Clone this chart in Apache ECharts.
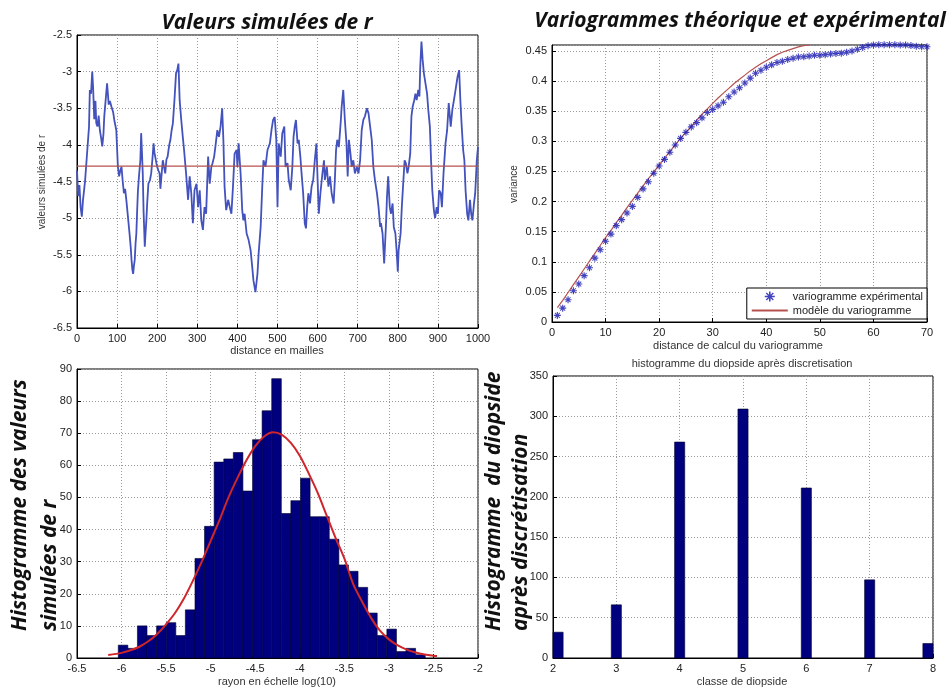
<!DOCTYPE html>
<html>
<head>
<meta charset="utf-8">
<script src="https://cdn.jsdelivr.net/npm/echarts@6/dist/echarts.min.js"></script>
<style>
html,body{margin:0;padding:0;background:#fff;}
#chart{width:948px;height:691px;}
</style>
</head>
<body>
<div id="chart"></div>
<script>
// ---- Data ----
// Panel 1: simulated values of r along the profile [distance, value]
const simSeries = [[0,-4.35],[3,-4.7],[6,-4.55],[9,-4.85],[12,-4.98],[15,-4.75],[18,-4.6],[20,-4.5],[24,-4.2],[28,-3.9],[30,-3.75],[32,-3.25],[35,-3.3],[38,-3.0],[40,-3.2],[43,-3.65],[46,-3.4],[48,-3.7],[51,-3.75],[54,-3.6],[57,-3.8],[60,-3.9],[63,-4.02],[66,-3.85],[68,-3.61],[71,-3.6],[75,-3.16],[77,-3.3],[79,-3.45],[82,-3.4],[86,-3.48],[90,-3.55],[93,-3.66],[98,-3.8],[102,-4.3],[105,-4.43],[108,-4.35],[111,-4.3],[114,-4.5],[117,-4.66],[120,-4.6],[123,-4.75],[127,-4.98],[131,-5.21],[134,-5.4],[136,-5.57],[138,-5.7],[140,-5.76],[142,-5.65],[144,-5.57],[146,-5.35],[148,-5.21],[150,-4.9],[152,-4.62],[155,-4.4],[158,-4.21],[160,-3.84],[162,-4.1],[164,-4.39],[166,-4.9],[169,-5.39],[171,-5.2],[173,-5.03],[175,-4.8],[178,-4.53],[182,-4.48],[185,-4.39],[188,-4.2],[191,-3.98],[193,-4.1],[195,-4.16],[198,-4.25],[200,-4.3],[203,-4.35],[206,-4.39],[208,-4.6],[211,-4.4],[214,-4.21],[217,-4.3],[220,-4.39],[223,-4.2],[226,-4.16],[230,-4.0],[233,-3.93],[236,-3.8],[239,-3.71],[243,-3.39],[247,-3.02],[250,-2.98],[253,-2.89],[256,-3.39],[260,-3.66],[264,-3.9],[267,-4.07],[272,-4.39],[277,-4.75],[281,-4.43],[285,-4.66],[289,-5.07],[293,-4.62],[298,-4.53],[302,-4.85],[306,-4.62],[310,-5.03],[314,-5.16],[318,-4.85],[322,-4.94],[327,-4.16],[331,-4.53],[335,-4.3],[338,-4.25],[342,-4.16],[345,-4.03],[350,-3.8],[354,-3.89],[358,-3.75],[362,-3.5],[365,-3.93],[368,-4.57],[372,-4.89],[377,-4.75],[381,-4.85],[385,-4.94],[389,-4.57],[393,-4.12],[398,-4.07],[400,-4.3],[403,-3.98],[408,-4.39],[412,-4.89],[415,-5.03],[418,-4.94],[423,-5.21],[428,-5.3],[433,-5.44],[437,-5.67],[440,-5.85],[445,-6.01],[450,-5.76],[453,-5.48],[458,-5.12],[462,-4.57],[465,-4.21],[470,-4.3],[475,-4.07],[481,-3.98],[485,-3.8],[489,-3.66],[493,-3.62],[497,-3.93],[500,-4.85],[503,-3.98],[508,-4.16],[512,-3.84],[517,-3.75],[520,-4.3],[525,-4.25],[528,-4.48],[533,-4.62],[537,-4.3],[540,-3.89],[543,-3.75],[546,-3.66],[550,-3.98],[553,-3.93],[557,-4.16],[560,-4.39],[564,-4.66],[568,-5.07],[571,-5.14],[574,-4.85],[577,-4.66],[581,-4.8],[585,-4.57],[589,-4.48],[593,-4.21],[597,-3.98],[600,-4.48],[603,-4.94],[607,-4.66],[612,-4.39],[616,-4.21],[618,-4.48],[623,-4.3],[627,-4.57],[631,-4.43],[635,-4.66],[640,-4.8],[643,-4.48],[646,-4.07],[649,-3.93],[653,-4.03],[658,-3.66],[660,-3.48],[664,-3.25],[668,-3.66],[672,-3.98],[675,-4.43],[678,-3.93],[682,-4.12],[685,-4.3],[689,-4.21],[693,-4.39],[698,-4.3],[702,-4.39],[706,-4.21],[710,-3.8],[714,-3.66],[718,-3.61],[723,-3.5],[727,-3.57],[731,-3.75],[735,-3.93],[739,-4.3],[743,-4.48],[748,-4.66],[752,-4.85],[756,-5.12],[758,-5.07],[762,-5.21],[766,-5.62],[771,-5.03],[773,-4.71],[776,-4.43],[780,-4.85],[783,-4.94],[787,-4.8],[790,-5.12],[794,-5.21],[797,-5.44],[800,-5.73],[802,-5.44],[807,-5.21],[810,-4.85],[814,-4.48],[817,-4.21],[820,-4.25],[824,-4.39],[827,-4.3],[831,-4.12],[834,-3.61],[837,-3.48],[841,-3.39],[844,-3.3],[847,-3.39],[851,-3.25],[854,-3.34],[856,-2.93],[859,-2.59],[862,-2.84],[865,-3.02],[869,-3.16],[873,-3.3],[876,-3.52],[880,-3.75],[883,-4.22],[886,-4.62],[890,-4.89],[893,-5.0],[897,-4.85],[900,-4.94],[903,-4.62],[907,-4.66],[910,-4.85],[914,-4.39],[919,-3.98],[923,-3.8],[927,-3.43],[932,-3.75],[936,-3.52],[940,-3.39],[944,-3.25],[949,-3.07],[953,-2.98],[956,-3.39],[959,-3.71],[963,-4.07],[966,-4.21],[969,-4.62],[973,-4.94],[976,-5.03],[980,-4.75],[983,-4.94],[986,-5.03],[990,-4.8],[993,-4.66],[997,-4.21],[1000,-4.03]];
const simMean = -4.29;
const simDistanceRange = [0, 1000];

// Panel 2: variograms
const lags = [1,2,3,4,5,6,7,8,9,10,11,12,13,14,15,16,17,18,19,20,21,22,23,24,25,26,27,28,29,30,31,32,33,34,35,36,37,38,39,40,41,42,43,44,45,46,47,48,49,50,51,52,53,54,55,56,57,58,59,60,61,62,63,64,65,66,67,68,69,70];
const expVariogram = [0.011,0.023,0.037,0.052,0.063,0.077,0.090,0.106,0.120,0.134,0.146,0.160,0.170,0.181,0.192,0.207,0.221,0.233,0.247,0.259,0.270,0.282,0.294,0.305,0.315,0.324,0.331,0.339,0.348,0.353,0.359,0.365,0.374,0.382,0.389,0.397,0.405,0.413,0.418,0.423,0.427,0.431,0.433,0.436,0.438,0.440,0.4405,0.4416,0.443,0.443,0.444,0.445,0.446,0.4465,0.448,0.450,0.453,0.456,0.4587,0.460,0.4605,0.4605,0.4605,0.4605,0.460,0.460,0.459,0.458,0.457,0.457];
const modelLags = [1,2,3,4,5,6,7,8,9,10,11,12,13,14,15,16,17,18,19,20,21,22,23,24,25,26,27,28,29,30,31,32,33,34,35,36,37,38,39,40,41,42,43,44,45,46,47,48];
const modelVariogram = [0.024,0.036,0.049,0.062,0.075,0.088,0.101,0.114,0.127,0.140,0.152,0.165,0.177,0.190,0.202,0.214,0.226,0.238,0.249,0.261,0.272,0.283,0.294,0.305,0.315,0.325,0.335,0.345,0.354,0.363,0.372,0.380,0.388,0.396,0.403,0.410,0.417,0.423,0.429,0.434,0.439,0.444,0.448,0.451,0.454,0.457,0.459,0.460];

// Panel 3: histogram of simulated r
const histCenters = [-5.983,-5.876,-5.768,-5.660,-5.553,-5.445,-5.337,-5.230,-5.122,-5.015,-4.907,-4.799,-4.692,-4.584,-4.476,-4.369,-4.261,-4.153,-4.046,-3.938,-3.831,-3.723,-3.615,-3.508,-3.400,-3.292,-3.185,-3.077,-2.969,-2.862,-2.754,-2.646];
const histCounts = [4,3,10,7,10,11,7,15,31,41,61,62,64,52,68,77,87,45,49,56,44,44,37,29,27,22,14,7,9,2,3,1];
const histBinWidth = 0.1077;
const fitX = [-6.15,-6.0,-5.9,-5.8,-5.7,-5.6,-5.5,-5.4,-5.3,-5.2,-5.1,-5.0,-4.9,-4.8,-4.7,-4.6,-4.5,-4.4,-4.3,-4.2,-4.1,-4.0,-3.9,-3.8,-3.7,-3.6,-3.5,-3.4,-3.3,-3.2,-3.1,-3.0,-2.9,-2.8,-2.7,-2.6,-2.5,-2.46];
const fitY = [0.9,1.6,2.4,3.5,5.2,7.5,10.5,14,18.5,24,30,36.5,43,50,56,61.5,66,69,70.3,69.5,67,63,57.5,51.5,44.5,37.5,31,23,17.5,12.5,8.5,5.8,3.9,2.6,1.7,1.1,0.7,0.6];

// Panel 4: diopside classes
const diopClasses = [2,3,4,5,6,7,8];
const diopCounts = [32,66,268,309,211,97,18];
const diopBarWidth = 0.16;

// ---- Chart ----
const FONT = 'Liberation Sans, Arial, sans-serif';
const TITLE_FONT = '"Open Sans", Lato, sans-serif';

function axis(gridIndex, min, max, interval, extraLabel) {
  return {
    type: 'value', gridIndex, min, max, interval,
    axisLine: { show: true, onZero: false, lineStyle: { color: '#000', width: 1 } },
    axisTick: { show: true, inside: true, length: 4, lineStyle: { color: '#000' } },
    axisLabel: Object.assign({ color: '#222', fontSize: 11, fontFamily: FONT, margin: 5,
      formatter: function (v) { return String(+v.toFixed(4)); } }, extraLabel || {}),
    splitLine: { show: true, lineStyle: { color: '#9a9a9a', width: 1, type: [1, 2] } }
  };
}

const gridBox = { show: true, borderColor: '#000', borderWidth: 1, backgroundColor: '#fff', containLabel: false };

const chart = echarts.init(document.getElementById('chart'), null, { renderer: 'canvas' });

const option = {
  animation: false,
  backgroundColor: '#fff',
  grid: [
    Object.assign({ left: 77, top: 35, width: 401, height: 293 }, gridBox),
    Object.assign({ left: 552, top: 45, width: 375, height: 277 }, gridBox),
    Object.assign({ left: 77, top: 369, width: 401, height: 289 }, gridBox),
    Object.assign({ left: 553, top: 376, width: 380, height: 282 }, gridBox)
  ],
  xAxis: [
    axis(0, 0, 1000, 100),
    axis(1, 0, 70, 10),
    axis(2, -6.5, -2, 0.5),
    axis(3, 2, 8, 1)
  ],
  yAxis: [
    axis(0, -6.5, -2.5, 0.5),
    axis(1, 0, 0.46, 0.05, { showMaxLabel: false }),
    axis(2, 0, 90, 10),
    axis(3, 0, 350, 50)
  ],
  legend: {
    show: true,
    orient: 'vertical',
    right: 21, top: 288,
    itemWidth: 36, itemHeight: 10, itemGap: 3,
    padding: [3, 4, 3, 4],
    backgroundColor: '#fff',
    borderColor: '#000', borderWidth: 1, borderRadius: 0,
    textStyle: { fontSize: 11, fontFamily: FONT, color: '#222' },
    data: [
      { name: 'variogramme expérimental' },
      { name: 'modèle du variogramme', itemStyle: { opacity: 0 } }
    ]
  },
  series: [
    {
      type: 'line', name: 'r simulé', xAxisIndex: 0, yAxisIndex: 0,
      data: simSeries, showSymbol: false, symbol: 'none',
      lineStyle: { color: '#4352bd', width: 1.8 }, z: 3
    },
    {
      type: 'line', name: 'moyenne', xAxisIndex: 0, yAxisIndex: 0,
      data: simDistanceRange.map(d => [d, simMean]), showSymbol: false, symbol: 'none',
      lineStyle: { color: '#b5524e', width: 1.2 }, z: 4
    },
    {
      type: 'line', name: 'modèle du variogramme', xAxisIndex: 1, yAxisIndex: 1,
      data: modelLags.map((h, i) => [h, modelVariogram[i]]), showSymbol: false, symbol: 'none',
      lineStyle: { color: '#b5524e', width: 1.2 }, z: 3
    },
    {
      type: 'scatter', name: 'variogramme expérimental', xAxisIndex: 1, yAxisIndex: 1,
      data: lags.map((h, i) => [h, expVariogram[i]]),
      symbol: 'path://M8.4,0L11.6,0L11.6,20L8.4,20Z M0,8.4L20,8.4L20,11.6L0,11.6Z M2,4L4,2L18,16L16,18Z M16,2L18,4L4,18L2,16Z',
      symbolSize: 7, clip: false,
      itemStyle: { color: '#1414b0' }, z: 4
    },
    {
      type: 'custom', name: 'histogramme', xAxisIndex: 2, yAxisIndex: 2,
      data: histCenters.map((c, i) => [c, histCounts[i]]),
      encode: { x: 0, y: 1 },
      renderItem: function (params, api) {
        const c = api.value(0), v = api.value(1);
        const p0 = api.coord([c - histBinWidth / 2, v]);
        const p1 = api.coord([c + histBinWidth / 2, 0]);
        return { type: 'rect', shape: { x: p0[0], y: p0[1], width: p1[0] - p0[0], height: p1[1] - p0[1] },
          style: { fill: '#00007e', stroke: '#00002a', lineWidth: 0.6 } };
      }, z: 2
    },
    {
      type: 'line', name: 'ajustement', xAxisIndex: 2, yAxisIndex: 2,
      data: fitX.map((x, i) => [x, fitY[i]]), showSymbol: false, symbol: 'none', smooth: 0.3,
      lineStyle: { color: '#d0252a', width: 2 }, z: 5
    },
    {
      type: 'custom', name: 'diopside', xAxisIndex: 3, yAxisIndex: 3,
      data: diopClasses.map((c, i) => [c, diopCounts[i]]),
      encode: { x: 0, y: 1 },
      renderItem: function (params, api) {
        const c = api.value(0), v = api.value(1);
        const w = api.size([diopBarWidth, 0])[0];
        const top = api.coord([c, v]);
        const base = api.coord([c, 0]);
        const cs = params.coordSys;
        let x0 = top[0] - w / 2;
        x0 = Math.max(cs.x, Math.min(x0, cs.x + cs.width - w));
        return { type: 'rect', shape: { x: x0, y: top[1], width: w, height: base[1] - top[1] },
          style: { fill: '#00007e', stroke: '#00002a', lineWidth: 0.6 } };
      }, z: 2
    }
  ],
  graphic: [
    { type: 'text', x: 267, y: 23, style: { text: 'Valeurs simulées de r', align: 'center', verticalAlign: 'middle', font: 'italic bold 21px ' + TITLE_FONT, fill: '#111' } },
    { type: 'text', x: 740, y: 21, style: { text: 'Variogrammes théorique et expérimental', align: 'center', verticalAlign: 'middle', font: 'italic bold 21px ' + TITLE_FONT, fill: '#111' } },
    { type: 'text', x: 5, y: 631, rotation: Math.PI / 2, style: { text: 'Histogramme des valeurs\nsimulées de r', align: 'left', verticalAlign: 'top', font: 'italic bold 21px ' + TITLE_FONT, lineHeight: 30, fill: '#111' } },
    { type: 'text', x: 481, y: 631, rotation: Math.PI / 2, style: { text: 'Histogramme  du diopside\naprès discrétisation', align: 'left', verticalAlign: 'top', font: 'italic bold 21px ' + TITLE_FONT, lineHeight: 26.5, fill: '#111' } },
    { type: 'text', x: 277, y: 351, style: { text: 'distance en mailles', align: 'center', verticalAlign: 'middle', font: '11px ' + FONT, fill: '#333' } },
    { type: 'text', x: 42, y: 182, rotation: Math.PI / 2, style: { text: 'valeurs simulées de r', align: 'center', verticalAlign: 'middle', font: '10px ' + FONT, fill: '#333' } },
    { type: 'text', x: 514, y: 184, rotation: Math.PI / 2, style: { text: 'variance', align: 'center', verticalAlign: 'middle', font: '10px ' + FONT, fill: '#333' } },
    { type: 'text', x: 738, y: 346, style: { text: 'distance de calcul du variogramme', align: 'center', verticalAlign: 'middle', font: '11px ' + FONT, fill: '#333' } },
    { type: 'text', x: 742, y: 364, style: { text: 'histogramme du diopside après discretisation', align: 'center', verticalAlign: 'middle', font: '11px ' + FONT, fill: '#333' } },
    { type: 'text', x: 277, y: 682, style: { text: 'rayon en échelle log(10)', align: 'center', verticalAlign: 'middle', font: '11px ' + FONT, fill: '#333' } },
    { type: 'text', x: 742, y: 682, style: { text: 'classe de diopside', align: 'center', verticalAlign: 'middle', font: '11px ' + FONT, fill: '#333' } }
  ]
};
chart.setOption(option);
</script>
</body>
</html>
